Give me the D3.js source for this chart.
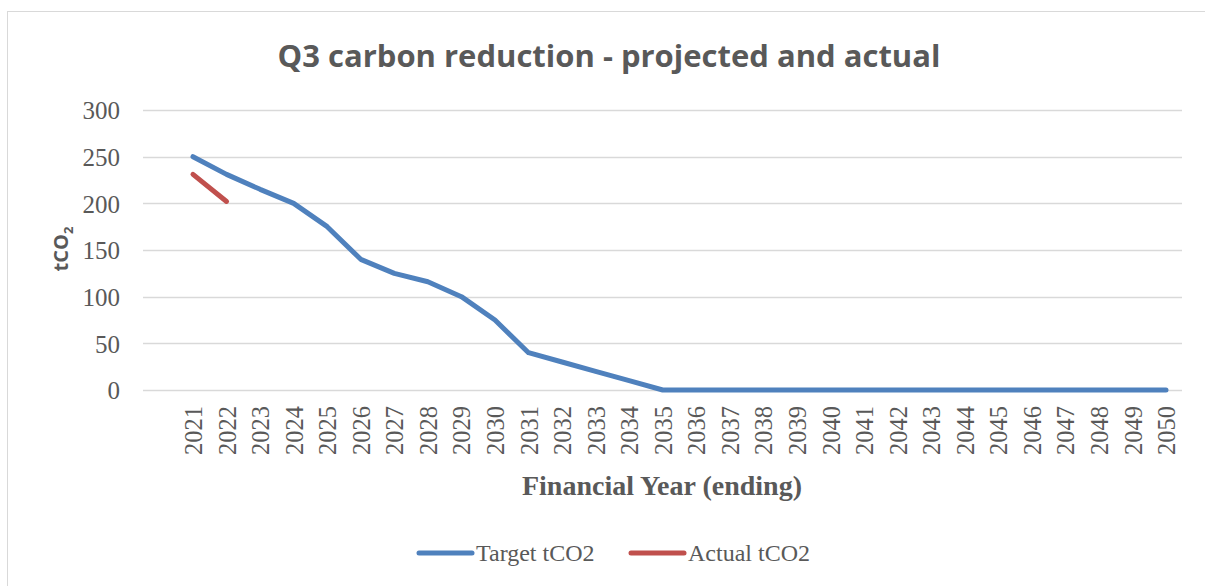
<!DOCTYPE html>
<html lang="en">
<head>
  <meta charset="UTF-8">
  <title>Q3 carbon reduction - projected and actual</title>
  <style>
    body { margin: 0; background: #fff; }
    svg { display: block; }
    .serif { font-family: 'Liberation Serif', 'DejaVu Serif', serif; fill: #595959; }
    .sans { font-family: 'Open Sans', 'Liberation Sans', sans-serif; fill: #595959; font-weight: bold; }
  </style>
</head>
<body>
  <svg id="chart" width="1205" height="586"></svg>
  <script src="https://d3js.org/d3.v7.min.js"></script>
  <script>
    // data
    const years = d3.range(2021, 2051).map(String);
    const targetValues = [250, 231, 215, 200, 175, 140, 125, 116, 100, 75,
                          40, 30, 20, 10, 0, 0, 0, 0, 0, 0,
                          0, 0, 0, 0, 0, 0, 0, 0, 0, 0];
    const actualValues = [231, 202];
    const yTicks = [0, 50, 100, 150, 200, 250, 300];
    const seriesNames = ["Target tCO2", "Actual tCO2"];
    const seriesColors = ["#4f81bd", "#c0504d"];

    const svg = d3.select('#chart');

    // outer chart border
    svg.append('rect')
      .attr('x', 7.5).attr('y', 11.5)
      .attr('width', 1300).attr('height', 700)
      .attr('fill', 'none').attr('stroke', '#d9d9d9').attr('stroke-width', 1);

    const x = d3.scalePoint().domain(years).range([193, 1166]);
    const y = d3.scaleLinear().domain([0, 300]).range([390, 110]);
    const gridLeft = 143, gridRight = 1182;

    // gridlines
    svg.append('g').selectAll('line')
      .data(yTicks).enter().append('line')
      .attr('x1', gridLeft).attr('x2', gridRight)
      .attr('y1', d => Math.round(y(d)) + 0.5).attr('y2', d => Math.round(y(d)) + 0.5)
      .attr('stroke', '#d9d9d9').attr('stroke-width', 1.5);

    // y axis labels
    const yAxis = d3.axisLeft(y).tickValues(yTicks).tickSize(0).tickPadding(0);
    const gy = svg.append('g').attr('transform', 'translate(120,0)').call(yAxis);
    gy.select('.domain').remove();
    gy.selectAll('text')
      .attr('class', 'serif')
      .attr('font-size', '25px')
      .attr('font-family', null)
      .attr('dy', '0.35em');

    // x axis labels (rotated)
    const xAxis = d3.axisBottom(x).tickSize(0).tickPadding(0);
    const gx = svg.append('g').attr('transform', 'translate(0,406)').call(xAxis);
    gx.select('.domain').remove();
    gx.selectAll('text')
      .attr('class', 'serif')
      .attr('font-size', '24.5px')
      .attr('font-family', null)
      .attr('text-anchor', 'end')
      .attr('transform', 'rotate(-90)')
      .attr('x', 0).attr('y', 0)
      .attr('dy', '0.35em');

    // lines
    const line = d3.line()
      .x((d, i) => x(years[i]))
      .y(d => y(d));

    [targetValues, actualValues].forEach((vals, i) => {
      svg.append('path')
        .datum(vals)
        .attr('d', line)
        .attr('fill', 'none')
        .attr('stroke', seriesColors[i])
        .attr('stroke-width', 5)
        .attr('stroke-linecap', 'round')
        .attr('stroke-linejoin', 'round');
    });

    // title
    svg.append('text')
      .attr('class', 'sans')
      .attr('x', 609).attr('y', 67)
      .attr('text-anchor', 'middle')
      .attr('font-size', '31px')
      .text('Q3 carbon reduction - projected and actual');

    // y axis title
    const yt = svg.append('text')
      .attr('class', 'sans')
      .attr('font-size', '20px')
      .attr('text-anchor', 'middle')
      .attr('transform', 'translate(68,249) rotate(-90)');
    yt.append('tspan').text('tCO');
    yt.append('tspan').attr('font-size', '13px').attr('dy', '5').text('2');

    // x axis title
    svg.append('text')
      .attr('class', 'serif')
      .attr('font-weight', 'bold')
      .attr('x', 662).attr('y', 495)
      .attr('text-anchor', 'middle')
      .attr('font-size', '28px')
      .text('Financial Year (ending)');

    // legend
    const legendX = [417, 629];
    seriesNames.forEach((name, i) => {
      const g = svg.append('g').attr('transform', `translate(${legendX[i]},553)`);
      g.append('line')
        .attr('x1', 2).attr('x2', 55).attr('y1', 0).attr('y2', 0)
        .attr('stroke', seriesColors[i]).attr('stroke-width', 5)
        .attr('stroke-linecap', 'round');
      g.append('text')
        .attr('class', 'serif')
        .attr('x', 59).attr('y', 0).attr('dy', '0.35em')
        .attr('font-size', '24px')
        .text(name);
    });
  </script>
</body>
</html>
